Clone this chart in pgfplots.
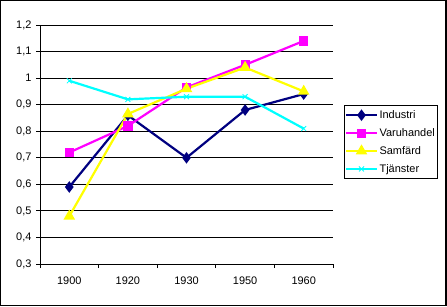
\documentclass[border=0pt]{standalone}
\usepackage{pgfplots}
\pgfplotsset{compat=1.18}
\usepackage{fontspec}
\setmainfont{Liberation Sans}
\definecolor{cInd}{HTML}{000080}
\definecolor{cVar}{HTML}{FF00FF}
\definecolor{cSam}{HTML}{FFFF00}
\definecolor{cTja}{HTML}{00FFFF}
\begin{document}
\begin{tikzpicture}[x=1bp,y=1bp]
\useasboundingbox (0,0) rectangle (447,306);
\fill[white] (0,0) rectangle (447,306);
\draw[black,line width=1bp] (0.5,1) rectangle (445.5,305.5);
\draw[black,line width=1bp] (446.5,0) -- (446.5,306);
\draw[black,line width=1bp] (0,0.5) -- (447,0.5);
\begin{axis}[
  at={(40bp,42bp)}, anchor=south west,
  scale only axis, width=293bp, height=239bp,
  xmin=-0.5, xmax=4.5, ymin=0.3, ymax=1.2,
  axis x line=bottom, axis y line=left,
  axis line style={black, line width=0.8bp, -},
  xtick={0,1,2,3,4},
  xticklabels={1900,1920,1930,1950,1960},
  minor xtick={-0.5,0.5,1.5,2.5,3.5,4.5},
  major x tick style={draw=none},
  minor x tick style={black, line width=0.8bp},
  minor tick length=4bp,
  ytick={0.3,0.4,...,1.21},
  major y tick style={black, line width=0.8bp},
  major tick length=4bp,
  tick align=outside,
  ymajorgrids, grid style={black, line width=0.8bp},
  /pgf/number format/assume math mode=true,
  /pgf/number format/use comma,
  /pgf/number format/fixed,
  /pgf/number format/precision=1,
  tick label style={font=\fontsize{11}{13}\selectfont},
  xticklabel style={yshift=-5bp},
  yticklabel style={xshift=-1bp},
  legend style={at={(rel axis cs:1.0375,0.665)}, anchor=north west,
    draw=black, line width=0.8bp, font=\fontsize{11}{13}\selectfont,
    inner xsep=1bp, inner ysep=3bp, row sep=4.5bp, cells={anchor=west}},
  legend image code/.code={\draw[mark repeat=2,mark phase=2] plot coordinates {(0bp,0bp) (15bp,0bp) (30bp,0bp)};},
  every axis plot/.append style={line width=2.2bp},
]
\addplot[color=cInd, mark=diamond*, mark size=4bp, mark options={solid,fill=cInd}]
  coordinates {(0,0.59) (1,0.86) (2,0.70) (3,0.88) (4,0.94)};
\addlegendentry{Industri}
\addplot[color=cVar, mark=square*, mark size=3.5bp, mark options={solid,fill=cVar}]
  coordinates {(0,0.72) (1,0.82) (2,0.965) (3,1.05) (4,1.14)};
\addlegendentry{Varuhandel}
\addplot[color=cSam, mark=triangle*, mark size=4.5bp, mark options={solid,fill=cSam}]
  coordinates {(0,0.48) (1,0.865) (2,0.96) (3,1.04) (4,0.95)};
\addlegendentry{Samfärd}
\addplot[color=cTja, mark=x, mark size=3.5bp, mark options={solid,line width=0.8bp}]
  coordinates {(0,0.99) (1,0.92) (2,0.93) (3,0.93) (4,0.81)};
\addlegendentry{Tjänster}
\end{axis}
\end{tikzpicture}
\end{document}
